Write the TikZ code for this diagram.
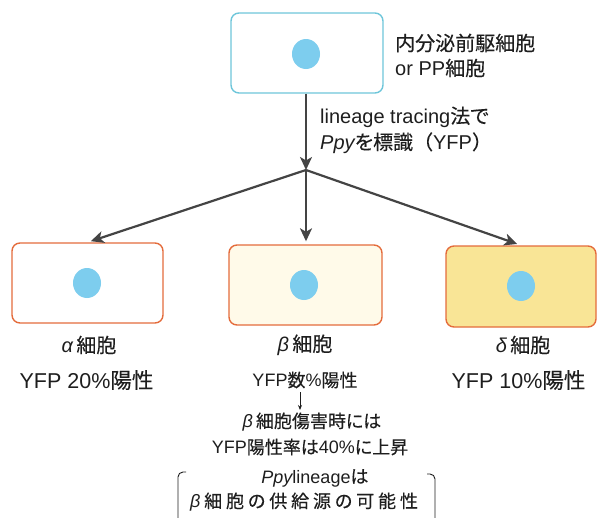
\documentclass[tikz,border=0pt]{standalone}
\usepackage{fontspec}
\setmainfont{Liberation Sans}
\newfontfamily\jp{Noto Sans CJK JP}[RawFeature=+palt, FakeBold=0.3]
\newfontfamily\jpf{Noto Sans CJK JP}[FakeBold=0.3]
\usetikzlibrary{arrows.meta,shapes.geometric}
\definecolor{cyanb}{RGB}{110,198,218}
\definecolor{nuc}{RGB}{125,205,238}
\definecolor{orb}{RGB}{228,108,60}
\definecolor{cream}{RGB}{255,250,233}
\definecolor{yel}{RGB}{249,229,150}
\definecolor{arr}{RGB}{68,68,68}
\definecolor{txt}{RGB}{30,30,30}
\newcommand\bigf{\fontsize{20}{24}\selectfont}
\newcommand\sidef{\fontsize{20}{24}\selectfont}
\newcommand\yfpf{\fontsize{21.5}{24}\selectfont}
\newcommand\midf{\fontsize{18}{22}\selectfont}
\newcommand\gr[1]{{\itshape #1}}
\newcommand\jt[1]{{\jp #1}}
\begin{document}
\begin{tikzpicture}[x=1pt,y=-1pt,
  cell/.style={draw, rounded corners=8pt, line width=1.4pt, inner sep=0pt},
  nucleus/.style={fill=nuc, draw=none, ellipse, inner sep=0pt, minimum width=28pt, minimum height=30pt},
  lbl/.style={text=txt, inner sep=0pt, font=\sidef},
  ylbl/.style={text=txt, inner sep=0pt, font=\yfpf},
  mlbl/.style={text=txt, inner sep=0pt, font=\midf},
  tlbl/.style={text=txt, inner sep=0pt, font=\bigf, anchor=west},
  mainarrow/.style={draw=arr, line width=2.2pt, -{Stealth[length=13pt,width=12pt,inset=3.5pt]}},
  smallarrow/.style={draw=txt, line width=0.9pt, -{Stealth[length=5pt,width=4pt]}},
  bracket/.style={draw=txt, line width=0.9pt, rounded corners=5pt}
]
\useasboundingbox (0,0) rectangle (597,517);

% cells
\node[cell, draw=cyanb, fill=white, minimum width=152pt, minimum height=80pt] (top) at (307,53) {};
\node[cell, draw=orb, fill=white, minimum width=151pt, minimum height=80pt] (alpha) at (87.5,283) {};
\node[cell, draw=orb, fill=cream, minimum width=153pt, minimum height=80pt] (beta) at (305.5,285) {};
\node[cell, draw=orb, fill=yel, minimum width=150pt, minimum height=81pt] (delta) at (521,286.5) {};

% nuclei
\node[nucleus] (ntop) at (306,54) {};
\node[nucleus] (nalpha) at (87,283) {};
\node[nucleus] (nbeta) at (304,285) {};
\node[nucleus] (ndelta) at (521,286) {};

% top labels
\node[tlbl] (prog1) at (395,43) {\jt{内分泌前駆細胞}};
\node[tlbl] (prog2) at (395,68) {or PP\jt{細胞}};
\node[tlbl] (lin1) at (320,117) {lineage tracing\jt{法で}};
\node[tlbl] (lin2) at (320,143) {\gr{Ppy}\jt{を標識}{\jpf （}YFP{\jpf ）}};

% arrows
\coordinate (branch) at (306,170);
\draw[mainarrow] (top.south -| branch) -- (branch);
\draw[mainarrow, shorten >=3.5pt] (branch) -- (alpha.north);
\draw[mainarrow, shorten >=3pt] (branch) -- (beta.north -| branch);
\draw[mainarrow, shorten >=4pt] (branch) -- (delta.north);

% bottom labels
\node[lbl] (la) at (89,345) {\gr{α}\,\jt{細胞}};
\node[ylbl] (ya) at (86.5,380) {YFP 20\%\jt{陽性}};
\node[lbl] (lb) at (305,345) {\gr{β}\,\jt{細胞}};
\node[mlbl] (yb) at (305,380) {YFP\jt{数}\%\jt{陽性}};
\node[lbl] (ld) at (523,345) {\gr{δ}\,\jt{細胞}};
\node[ylbl] (yd) at (518.5,380) {YFP 10\%\jt{陽性}};

\coordinate (s1) at (300,392);
\coordinate (s2) at (300,410);
\draw[smallarrow] (s1) -- (s2);

\node[mlbl] (inj1) at (312,422) {\gr{β}\,\jt{細胞傷害時には}};
\node[mlbl] (inj2) at (310,447) {YFP\jt{陽性率は}40\%\jt{に上昇}};
\node[mlbl] (pp1) at (315,478) {\gr{Ppy}lineage\jt{は}};
\node[mlbl] (pp2) at (304,502) {\hbox to 228pt{\gr{β}\hfil\jt{細}\hfil\jt{胞}\hfil\jt{の}\hfil\jt{供}\hfil\jt{給}\hfil\jt{源}\hfil\jt{の}\hfil\jt{可}\hfil\jt{能}\hfil\jt{性}}};

% brackets
\draw[bracket] (186,472) -- (178,472) -- (178,522);
\draw[bracket] (427,474) -- (435,474) -- (435,522);
\end{tikzpicture}
\end{document}
